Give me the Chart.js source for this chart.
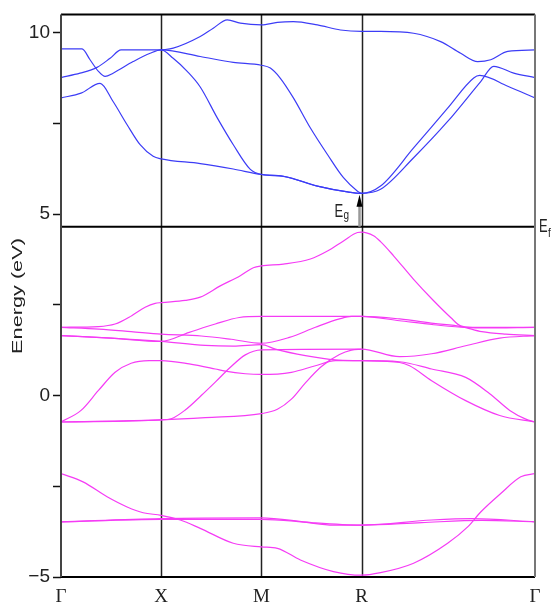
<!DOCTYPE html>
<html>
<head>
<meta charset="utf-8">
<script src="https://cdn.jsdelivr.net/npm/chart.js@4.4.1/dist/chart.umd.min.js"></script>
<style>
  html, body { margin: 0; padding: 0; background: #fff; overflow: hidden; }
  #wrap { width: 552px; height: 620px; }
</style>
</head>
<body>
<div id="wrap"><canvas id="bands"></canvas></div>
<script>
// high symmetry points (k path length, simple cubic)
const kTicks = [0, 0.5, 1.0, 1.5, 2.366];
const kLabels = ["Γ", "X", "M", "R", "Γ"];
const eTicks = [-5, -2.5, 0, 2.5, 5, 7.5, 10];
const eLabels = ["−5", "", "0", "", "5", "", "10"];

const fermiLevel = 4.65;
const gapBottom = 4.65;
const gapTop = 5.53;
const gapK = 1.49;

// conduction bands [k, E]
const cb1 = [[0,8.2],[0.1,8.33],[0.195,8.6],[0.26,8.1],[0.33,7.46],[0.395,6.91],[0.46,6.59],[0.5,6.52],
  [0.695,6.39],[0.86,6.24],[1.0,6.09],[1.11,6.04],[1.28,5.77],[1.43,5.61],[1.5,5.57],
  [1.595,5.77],[1.76,6.82],[1.93,7.92],[2.06,8.75],[2.09,8.82],[2.23,8.52],[2.366,8.2]];
const cb2 = [[0,8.76],[0.095,8.88],[0.18,9.04],[0.245,9.29],[0.3,9.52],[0.5,9.52],
  [0.56,9.29],[0.63,8.93],[0.695,8.5],[0.78,7.65],[0.86,6.91],[0.945,6.23],[1.0,6.09],
  [1.11,6.04],[1.28,5.77],[1.43,5.61],[1.5,5.57],
  [1.595,5.68],[1.76,6.55],[1.93,7.55],[2.095,8.65],[2.16,9.07],[2.26,8.88],[2.366,8.76]];
const cb3 = [[0,9.55],[0.105,9.55],[0.145,9.25],[0.187,8.93],[0.22,8.79],[0.26,8.88],[0.36,9.2],[0.445,9.43],[0.5,9.52],
  [0.695,9.34],[0.86,9.18],[1.0,9.1],[1.045,9.02],[1.095,8.74],[1.16,8.2],[1.245,7.37],[1.33,6.64],[1.41,6.0],[1.48,5.63],[1.5,5.57]];
const cb4 = [[0.5,9.52],[0.56,9.57],[0.695,9.89],[0.76,10.12],[0.83,10.35],[0.895,10.26],[1.0,10.21],[1.08,10.28],[1.16,10.3],
  [1.28,10.21],[1.395,10.07],[1.5,10.03],[1.595,10.03],[1.76,9.98],[1.895,9.75],[1.995,9.43],[2.08,9.2],[2.145,9.25],[2.23,9.48],[2.366,9.52]];

// valence bands [k, E]
const vb1 = [[0,1.88],[0.187,1.9],[0.27,1.97],[0.353,2.2],[0.42,2.43],[0.47,2.54],[0.5,2.56],
  [0.62,2.62],[0.695,2.71],[0.795,3.02],[0.895,3.3],[0.96,3.52],[1.0,3.57],
  [1.11,3.62],[1.245,3.76],[1.33,3.98],[1.41,4.26],[1.48,4.49],[1.5,4.5],
  [1.56,4.4],[1.595,4.24],[1.66,3.85],[1.76,3.2],[1.86,2.61],[1.945,2.15],[1.995,1.92],[2.1,1.86],[2.366,1.88]];
const vb2 = [[0,1.88],[0.19,1.83],[0.35,1.76],[0.5,1.69],[0.7,1.64],[0.85,1.55],[1.0,1.44],
  [1.14,1.6],[1.27,1.88],[1.39,2.11],[1.45,2.18],[1.5,2.18],
  [1.69,2.11],[1.86,1.99],[2.0,1.9],[2.1,1.76],[2.22,1.69],[2.366,1.65]];
const vb3 = [[0,1.65],[0.25,1.58],[0.5,1.49],[0.64,1.74],[0.77,1.97],[0.89,2.15],[1.0,2.18],
  [1.5,2.18],[1.69,2.06],[1.86,1.95],[2.02,1.88],[2.366,1.88]];
const vb4 = [[0,1.65],[0.25,1.58],[0.5,1.49],[0.72,1.38],[0.86,1.36],[1.0,1.4],
  [1.07,1.28],[1.22,1.1],[1.37,0.98],[1.5,0.96],
  [1.69,0.91],[1.74,0.82],[1.85,0.41],[2.02,-0.14],[2.19,-0.55],[2.366,-0.73]];
const vb5 = [[0,-0.73],[0.1,-0.41],[0.187,0.14],[0.27,0.64],[0.35,0.89],[0.44,0.96],[0.5,0.96],
  [0.64,0.87],[0.77,0.73],[0.82,0.67],[0.92,0.6],[1.0,0.58],
  [1.15,0.64],[1.27,0.82],[1.37,0.96],[1.5,0.96],
  [1.69,0.93],[1.85,0.73],[2.02,0.5],[2.14,0.05],[2.24,-0.41],[2.32,-0.65],[2.366,-0.73]];
const vb6 = [[0,-0.73],[0.5,-0.67],[0.55,-0.64],[0.62,-0.4],[0.7,0.0],[0.77,0.37],[0.84,0.75],[0.92,1.12],[1.0,1.26],
  [1.5,1.28],[1.69,1.07],[1.85,1.15],[2.02,1.37],[2.19,1.58],[2.366,1.65]];
const vb7 = [[0,-0.73],[0.5,-0.67],[0.72,-0.61],[1.0,-0.5],[1.08,-0.38],[1.15,-0.1],[1.22,0.35],[1.3,0.8],[1.39,1.13],[1.45,1.25],[1.5,1.28]];
const vb8 = [[0,-2.15],[0.11,-2.38],[0.23,-2.79],[0.33,-3.07],[0.41,-3.23],[0.5,-3.3],
  [0.595,-3.43],[0.695,-3.66],[0.86,-4.07],[1.0,-4.17],[1.08,-4.21],[1.195,-4.53],[1.36,-4.85],[1.5,-4.95],
  [1.595,-4.88],[1.76,-4.62],[1.93,-4.07],[2.03,-3.62],[2.095,-3.21],[2.195,-2.7],[2.295,-2.24],[2.366,-2.15]];
const vb9 = [[0,-3.48],[0.5,-3.41],[1.0,-3.41],[1.2,-3.48],[1.36,-3.57],[1.5,-3.57],[1.85,-3.43],[2.05,-3.39],[2.366,-3.48]];
const vb10 = [[0,-3.48],[0.5,-3.39],[1.0,-3.37],[1.25,-3.5],[1.5,-3.57],[1.8,-3.5],[2.1,-3.44],[2.366,-3.48]];

const conduction = [cb1, cb2, cb3, cb4];
const valence = [vb1, vb2, vb3, vb4, vb5, vb6, vb7, vb8, vb9, vb10];

function band(pts, color){
    return {
        data: pts.map(p => ({x: p[0], y: p[1]})),
        borderColor: color,
        borderWidth: 1.2,
        pointRadius: 0,
        fill: false,
        tension: 0.4,
        cubicInterpolationMode: "monotone"
    };
}

function stretchedText(ctx, text, x, y, sx, sy){
    ctx.save();
    ctx.translate(x, y);
    ctx.scale(sx, sy);
    ctx.fillText(text, 0, 0);
    ctx.restore();
}

const bandDecor = {
    id: "bandDecor",
    beforeDatasetsDraw(chart){
        const {ctx, chartArea: a, scales: {x, y}} = chart;
        ctx.save();
        // vertical lines at X, M, R
        ctx.strokeStyle = "#222";
        ctx.lineWidth = 1.5;
        kTicks.slice(1, -1).forEach(k => {
            const px = Math.round(x.getPixelForValue(k)) + 0.5;
            ctx.beginPath();
            ctx.moveTo(px, a.top);
            ctx.lineTo(px, a.bottom);
            ctx.stroke();
        });
        ctx.restore();
    },
    afterDatasetsDraw(chart){
        const {ctx, chartArea: a, scales: {x, y}} = chart;
        ctx.save();

        // Fermi level
        const yf = y.getPixelForValue(fermiLevel);
        ctx.strokeStyle = "#000";
        ctx.lineWidth = 2;
        ctx.beginPath();
        ctx.moveTo(a.left, yf);
        ctx.lineTo(a.right, yf);
        ctx.stroke();

        // frame
        ctx.lineWidth = 2;
        ctx.strokeStyle = "#000";
        ctx.beginPath();
        ctx.moveTo(a.left, a.top); ctx.lineTo(a.right, a.top);
        ctx.moveTo(a.left, a.bottom); ctx.lineTo(a.right, a.bottom);
        ctx.stroke();
        ctx.strokeStyle = "#444";
        ctx.beginPath();
        ctx.moveTo(a.left, a.top); ctx.lineTo(a.left, a.bottom);
        ctx.stroke();
        ctx.strokeStyle = "#777";
        ctx.beginPath();
        ctx.moveTo(a.right, a.top); ctx.lineTo(a.right, a.bottom);
        ctx.stroke();

        // gap arrow
        const ax = x.getPixelForValue(gapK);
        const yb = y.getPixelForValue(gapBottom);
        const yt = y.getPixelForValue(gapTop);
        ctx.strokeStyle = "#999";
        ctx.lineWidth = 2.5;
        ctx.beginPath();
        ctx.moveTo(ax, yb);
        ctx.lineTo(ax, yt + 10);
        ctx.stroke();
        ctx.fillStyle = "#000";
        ctx.beginPath();
        ctx.moveTo(ax, yt);
        ctx.lineTo(ax - 3, yt + 12);
        ctx.lineTo(ax + 3, yt + 12);
        ctx.closePath();
        ctx.fill();

        // labels
        ctx.fillStyle = "#222";
        ctx.textAlign = "left";
        ctx.textBaseline = "alphabetic";
        ctx.font = "13px 'Liberation Sans', Arial, sans-serif";
        stretchedText(ctx, "E", ax - 25, yt + 22, 1, 1.4);
        stretchedText(ctx, "E", a.right + 4, yf + 5, 1, 1.4);
        ctx.font = "10px 'Liberation Sans', Arial, sans-serif";
        stretchedText(ctx, "g", ax - 16, yt + 24, 1, 1.3);
        stretchedText(ctx, "f", a.right + 13, yf + 10, 1, 1.3);

        // y axis title
        ctx.font = "14px 'Liberation Sans', Arial, sans-serif";
        ctx.textAlign = "center";
        ctx.textBaseline = "middle";
        ctx.save();
        ctx.translate(18.5, 296);
        ctx.rotate(-Math.PI / 2);
        ctx.scale(1.55, 1);
        ctx.fillText("Energy (eV)", 0, 0);
        ctx.restore();

        ctx.restore();
    }
};

const datasets = conduction.map(b => band(b, "#3c3cf6"))
    .concat(valence.map(b => band(b, "#f53cf5")));

const bandChart = new Chart(document.getElementById("bands").getContext("2d"), {
    type: "line",
    data: { datasets: datasets },
    options: {
        responsive: true,
        maintainAspectRatio: false,
        animation: false,
        layout: { padding: { top: 13, right: 17, left: 0, bottom: 0 } },
        plugins: {
            legend: { display: false },
            tooltip: { enabled: false }
        },
        scales: {
            x: {
                type: "linear",
                min: 0,
                max: kTicks[kTicks.length - 1],
                afterBuildTicks: s => { s.ticks = kTicks.map(v => ({value: v})); },
                afterFit: s => { s.height = 43; },
                grid: { display: false, drawTicks: false },
                border: { display: false },
                ticks: {
                    autoSkip: false,
                    maxRotation: 0,
                    padding: 9,
                    color: "#222",
                    font: { family: "'Liberation Serif', 'Times New Roman', serif", size: 19 },
                    callback: (v, i) => kLabels[i]
                }
            },
            y: {
                type: "linear",
                min: -5,
                max: 10.5,
                afterBuildTicks: s => { s.ticks = eTicks.map(v => ({value: v})); },
                afterFit: s => { s.width = 61; },
                grid: { drawOnChartArea: false, drawTicks: true, tickLength: 8, tickColor: "#111", tickWidth: 1.5 },
                border: { display: false },
                ticks: {
                    autoSkip: false,
                    padding: 3,
                    color: "#222",
                    font: { family: "'Liberation Sans', Arial, sans-serif", size: 19 },
                    callback: (v, i) => eLabels[i]
                }
            }
        }
    },
    plugins: [bandDecor]
});
</script>
</body>
</html>
